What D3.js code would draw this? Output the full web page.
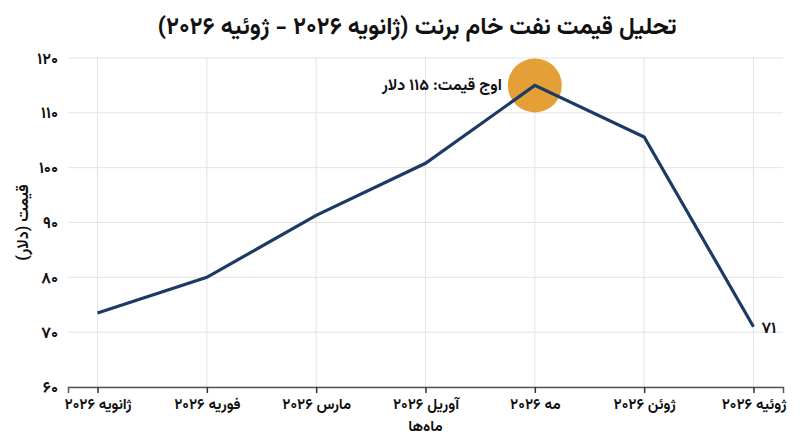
<!DOCTYPE html>
<html lang="fa">
<head>
<meta charset="utf-8">
<script src="https://cdn.jsdelivr.net/npm/d3@7"></script>
<style>
  body { margin: 0; background: #fff; }
  svg text { font-family: Vazirmatn, "Noto Sans Arabic", "DejaVu Sans", sans-serif; font-weight: bold; fill: #111; }
</style>
</head>
<body>
<div id="chart"></div>
<script>
// data
var months = ["ژانویه ۲۰۲۶", "فوریه ۲۰۲۶", "مارس ۲۰۲۶", "آوریل ۲۰۲۶", "مه ۲۰۲۶", "ژوئن ۲۰۲۶", "ژوئیه ۲۰۲۶"];
var prices = [73.5, 80, 91.3, 100.8, 115, 105.6, 71];
var yTicks = [60, 70, 80, 90, 100, 110, 120];
var peakIndex = 4;

var svgWidth = 800;
var svgHeight = 447;
var margin = { top: 58, right: 17, bottom: 60, left: 68 };
var width = svgWidth - margin.left - margin.right;
var height = svgHeight - margin.top - margin.bottom;

function fa(n) {
    return String(n).replace(/\d/g, function (c) { return "۰۱۲۳۴۵۶۷۸۹"[+c]; });
}

var svg = d3.select("#chart")
    .append("svg")
    .attr("width", svgWidth)
    .attr("height", svgHeight);

var chartGroup = svg.append("g")
    .attr("transform", `translate(${margin.left}, ${margin.top})`);

var x = d3.scalePoint()
    .domain(months)
    .range([0, width])
    .padding(0.27);

var y = d3.scaleLinear()
    .domain([60, 120])
    .range([height, 0]);

// grid
chartGroup.append("g")
    .selectAll("line")
    .data(yTicks)
    .enter()
    .append("line")
    .attr("x1", 0)
    .attr("x2", width)
    .attr("y1", d => y(d))
    .attr("y2", d => y(d))
    .attr("stroke", "#e3e3e3")
    .attr("stroke-width", 1);

chartGroup.append("g")
    .selectAll("line")
    .data(months)
    .enter()
    .append("line")
    .attr("x1", d => x(d))
    .attr("x2", d => x(d))
    .attr("y1", 0)
    .attr("y2", height)
    .attr("stroke", "#e3e3e3")
    .attr("stroke-width", 1);

// axes
var bottomAxis = d3.axisBottom(x).tickSize(6).tickPadding(5);
var xAxis = chartGroup.append("g")
    .attr("transform", `translate(0, ${height})`)
    .call(bottomAxis);
xAxis.select(".domain").attr("stroke", "#555").attr("stroke-width", 1.5);
xAxis.selectAll(".tick line").attr("stroke", "#333").attr("stroke-width", 1.5);
xAxis.selectAll("text").style("font-size", "15px").attr("fill", "#111");

var leftAxis = d3.axisLeft(y).tickValues(yTicks).tickFormat(fa).tickSize(0).tickPadding(10);
var yAxis = chartGroup.append("g").call(leftAxis);
yAxis.select(".domain").remove();
yAxis.selectAll("text").style("font-size", "16px").attr("fill", "#111");

// peak marker
chartGroup.append("circle")
    .attr("cx", x(months[peakIndex]))
    .attr("cy", y(prices[peakIndex]))
    .attr("r", 27)
    .attr("fill", "#e39a2b")
    .attr("opacity", 0.95);

// line
var line = d3.line()
    .x((d, i) => x(months[i]))
    .y(d => y(d));

chartGroup.append("path")
    .datum(prices)
    .attr("d", line)
    .attr("fill", "none")
    .attr("stroke", "#1c3a66")
    .attr("stroke-width", 3.2)
    .attr("stroke-linejoin", "miter");

// annotations
chartGroup.append("text")
    .attr("x", x(months[peakIndex]) - 33)
    .attr("y", y(prices[peakIndex]) + 5)
    .attr("text-anchor", "start")
    .attr("direction", "rtl")
    .style("font-size", "16px")
    .text("اوج قیمت: " + fa(prices[peakIndex]) + " دلار");

var last = prices.length - 1;
chartGroup.append("text")
    .attr("x", x(months[last]) + 8)
    .attr("y", y(prices[last]) + 6)
    .attr("text-anchor", "start")
    .style("font-size", "16px")
    .text(fa(prices[last]));

// titles
svg.append("text")
    .attr("x", 417)
    .attr("y", 34)
    .attr("text-anchor", "middle")
    .attr("direction", "rtl")
    .style("font-size", "24px")
    .text("تحلیل قیمت نفت خام برنت (ژانویه ۲۰۲۶ - ژوئیه ۲۰۲۶)");

svg.append("text")
    .attr("x", margin.left + width / 2)
    .attr("y", 431)
    .attr("text-anchor", "middle")
    .style("font-size", "15px")
    .text("ماه‌ها");

svg.append("text")
    .attr("transform", `translate(28, ${margin.top + height / 2}) rotate(-90)`)
    .attr("text-anchor", "middle")
    .attr("direction", "rtl")
    .style("font-size", "16px")
    .text("قیمت (دلار)");
</script>
</body>
</html>
